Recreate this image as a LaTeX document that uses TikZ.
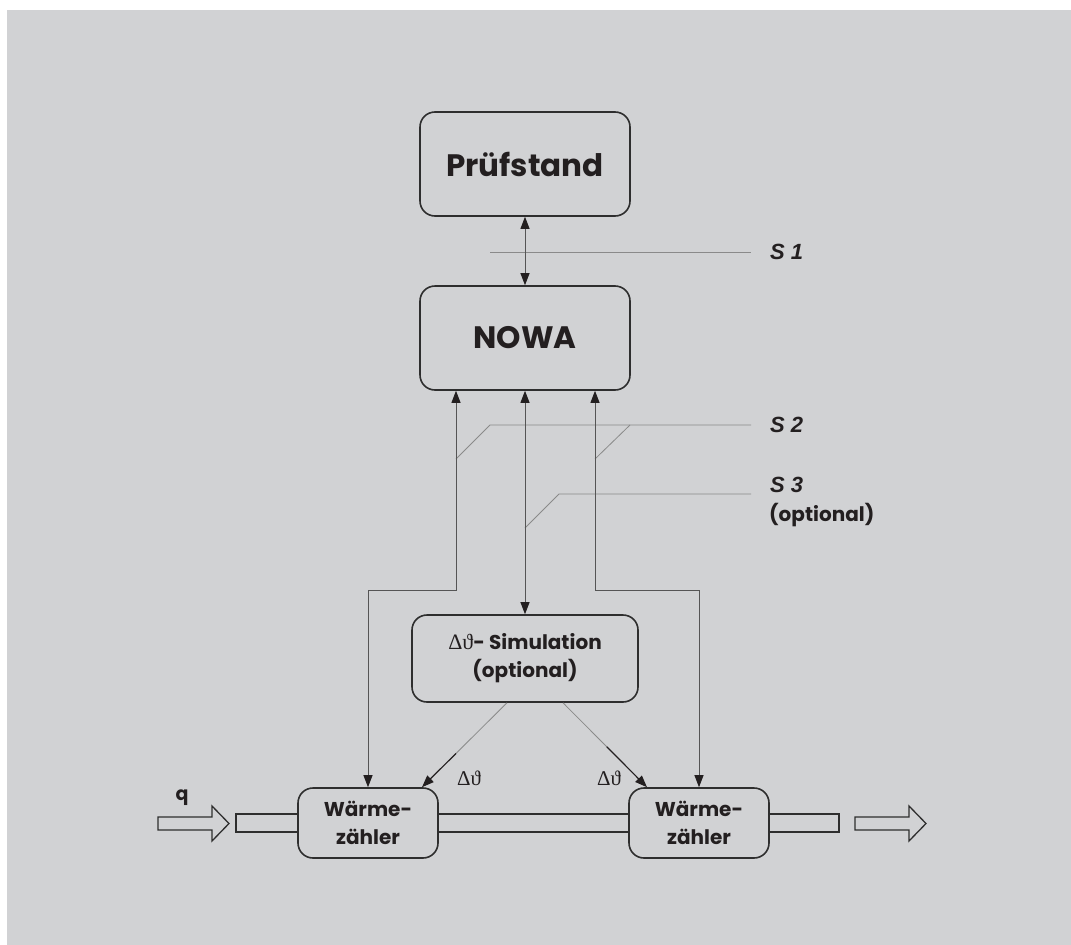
\documentclass[tikz,border=0pt]{standalone}
\usepackage{fontspec}
\setmainfont{Poppins}
\newfontfamily\labelfont{Liberation Sans}
\newfontfamily\greekfont{Liberation Serif}
\usetikzlibrary{arrows.meta}
\definecolor{bg}{HTML}{D1D2D4}
\definecolor{ink}{HTML}{231F20}
\definecolor{frame}{HTML}{2E2E2E}
\definecolor{wire}{HTML}{555555}
\definecolor{cut}{HTML}{8A8A8A}
\tikzset{
  block/.style={draw=frame, line width=1.6pt, fill=bg, rounded corners=15pt,
    align=center, text=ink, font=\bfseries, inner sep=0pt},
  bigblock/.style={block, minimum width=210pt, minimum height=104pt, font=\bfseries\fontsize{31}{36}\selectfont},
  meter/.style={block, minimum width=140pt, minimum height=70pt, font=\bfseries\fontsize{20}{28}\selectfont},
  simblock/.style={block, minimum width=226pt, minimum height=87pt, font=\bfseries\fontsize{20}{28}\selectfont},
  link/.style={draw=wire, line width=0.9pt},
  tip/.style={-{Triangle[length=12pt,width=9pt,color=ink]}},
  tips/.style={{Triangle[length=12pt,width=9pt,color=ink]}-{Triangle[length=12pt,width=9pt,color=ink]}},
  cutline/.style={draw=cut, line width=0.8pt},
  slabel/.style={anchor=west, text=ink, inner sep=0pt, font=\labelfont\bfseries\itshape\fontsize{22}{24}\selectfont},
  pipe/.style={draw=frame, line width=1.5pt},
  flow/.style={draw=frame, line width=1.3pt, fill=bg, line join=miter},
  dtheta/.style={text=ink, inner sep=0pt, font=\greekfont\fontsize{21}{22}\selectfont},
}
\begin{document}
\begin{tikzpicture}[x=1pt,y=-1pt]
  % canvas
  \fill[white] (0,0) rectangle (1071,945);
  \fill[bg] (7,10) rectangle (1071,945);
  \useasboundingbox (0,0) rectangle (1071,945);

  % pipe with the flow direction
  \draw[pipe] (298,814) -- (236,814) -- (236,832) -- (298,832);
  \draw[pipe] (438,814) -- (629,814) (438,832) -- (629,832);
  \draw[pipe] (769,814) -- (839,814) -- (839,832) -- (769,832);
  \draw[flow] (158,817) -- (212,817) -- (212,806) -- (229,823.5) -- (212,841) -- (212,830) -- (158,830) -- cycle;
  \draw[flow] (855,817) -- (909,817) -- (909,806) -- (926,823.5) -- (909,841) -- (909,830) -- (855,830) -- cycle;
  \node[text=ink, font=\bfseries\fontsize{19}{20}\selectfont, inner sep=0pt] (q) at (182,798) {q};

  % blocks
  \node[bigblock] (pruef) at (525,164) {Prüfstand};
  \node[bigblock] (nowa) at (525,338) {NOWA};
  \node[simblock] (sim) at (525,658.5) {{\greekfont\mdseries\fontsize{22}{28}\selectfont Δϑ}- Simulation\\(optional)};
  \node[meter] (wz1) at (368,823) {Wärme-\\zähler};
  \node[meter] (wz2) at (699,823) {Wärme-\\zähler};

  % interface cuts
  \draw[cutline] (490,252) -- (751,252);
  \node[slabel] (s1) at (770,252) {S 1};
  \draw[cutline] (456,459) -- (490,425) -- (751,425);
  \draw[cutline] (595,459) -- (630,425);
  \node[slabel] (s2) at (770,425) {S 2};
  \draw[cutline] (525,528) -- (559,494) -- (751,494);
  \node[slabel] (s3) at (770,485) {S 3};
  \node[anchor=west, text=ink, inner sep=0pt, font=\bfseries\fontsize{20}{22}\selectfont] (s3opt) at (769,515) {(optional)};

  % connections
  \draw[link, tips] (pruef.south) -- (nowa.north);
  \draw[link, tips] (nowa.south) -- (sim.north);
  \draw[link, tips] ([xshift=-69pt]nowa.south) -- ++(0,200) -| (wz1.north);
  \draw[link, tips] ([xshift=70pt]nowa.south) -- ++(0,200) -| (wz2.north);

  % temperature difference feeds
  \path ([xshift=-18pt]sim.south) -- coordinate[pos=0.6] (dl) ([xshift=54pt]wz1.north);
  \draw[cutline] ([xshift=-18pt]sim.south) -- (dl);
  \draw[line width=1.2pt, draw=ink, tip] (dl) -- ([xshift=54pt]wz1.north);
  \path ([xshift=38pt]sim.south) -- coordinate[pos=0.52] (dr) ([xshift=-52pt]wz2.north);
  \draw[cutline] ([xshift=38pt]sim.south) -- (dr);
  \draw[line width=1.2pt, draw=ink, tip] (dr) -- ([xshift=-52pt]wz2.north);
  \node[dtheta] (d1) at (469,778) {Δϑ};
  \node[dtheta] (d2) at (609,778) {Δϑ};
\end{tikzpicture}
\end{document}
